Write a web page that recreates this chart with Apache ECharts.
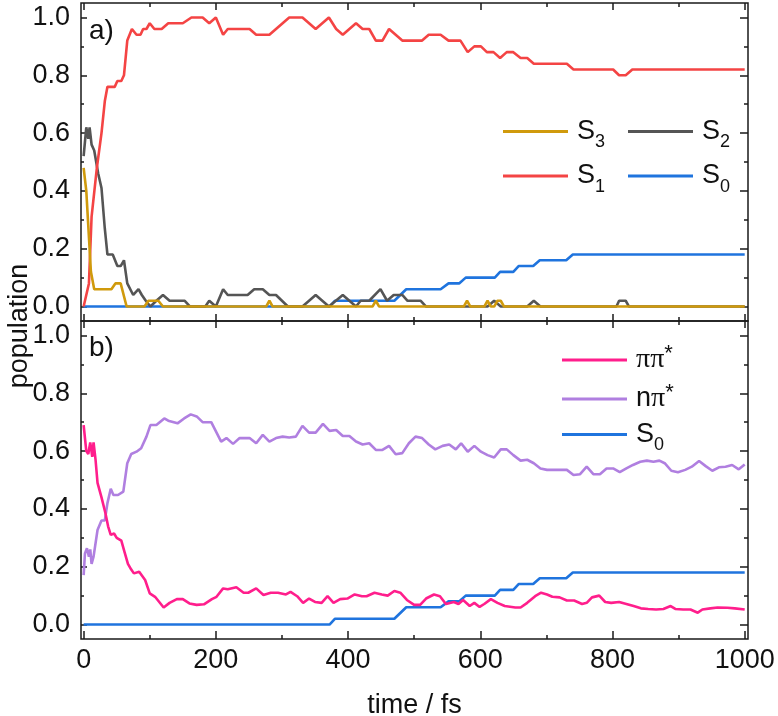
<!DOCTYPE html>
<html>
<head>
<meta charset="utf-8">
<script src="https://cdn.jsdelivr.net/npm/echarts@6.0.0/dist/echarts.min.js"></script>
<style>
  html, body { margin: 0; background: #fff; }
  #chart { width: 778px; height: 716px; }
</style>
</head>
<body>
<div id="chart"></div>
<script>
// populations, [time fs, population]
var s3Data = [[0,0.48],[4,0.4],[8,0.24],[11,0.12],[16,0.06],[42,0.06],[48,0.08],[56,0.08],[65,0],[92,0],[98,0.02],[113,0.02],[120,0],
  [276,0],[281,0.02],[286,0],[437,0],[442,0.02],[447,0],[575,0],[580,0.02],[585,0],[606,0],[611,0.02],[616,0],[621,0],[626,0.02],[631,0.02],[636,0],[1000,0]];
var s2Data = [[0,0.52],[4,0.62],[7,0.58],[9,0.62],[12,0.56],[16,0.54],[22,0.46],[27,0.41],[32,0.27],[36,0.18],[44,0.18],[51,0.14],[56,0.14],[61,0.16],
  [66,0.08],[75,0.04],[83,0.06],[88,0.04],[94,0.02],[101,0],[110,0.02],[120,0.04],[130,0.02],[153,0.02],[161,0],[184,0],[190,0.02],[200,0],
  [211,0.06],[218,0.04],[248,0.04],[258,0.06],[271,0.06],[281,0.04],[291,0.04],[309,0],[331,0],[351,0.04],[371,0],[392,0.04],[412,0],[419,0.02],
  [432,0.02],[449,0.06],[459,0.02],[469,0.04],[482,0.04],[490,0.02],[510,0.02],[518,0],[611,0],[621,0.02],[631,0],[671,0],[681,0.02],[691,0],
  [806,0],[810,0.02],[820,0.02],[825,0],[1000,0]];
var s1Data = [[0,0],[3,0],[8,0.08],[12,0.31],[20,0.48],[27,0.6],[32,0.71],[36,0.76],[47,0.76],[51,0.78],[57,0.78],[61,0.8],[66,0.92],[73,0.96],
  [80,0.94],[86,0.94],[90,0.96],[95,0.96],[100,0.98],[107,0.96],[118,0.96],[128,0.98],[150,0.98],[163,1],[180,1],[190,0.98],[200,1],[211,0.94],
  [218,0.96],[251,0.96],[261,0.94],[281,0.94],[311,1],[331,1],[351,0.96],[371,1],[382,0.96],[392,0.94],[412,0.98],[422,0.96],[432,0.96],
  [442,0.92],[452,0.92],[462,0.96],[482,0.92],[512,0.92],[522,0.94],[540,0.94],[552,0.92],[570,0.92],[581,0.88],[591,0.9],[601,0.9],[610,0.88],
  [620,0.88],[630,0.86],[640,0.88],[650,0.88],[661,0.86],[671,0.86],[681,0.84],[731,0.84],[741,0.82],[801,0.82],[810,0.8],[820,0.8],[830,0.82],[1000,0.82]];
var s0Data = [[0,0],[372,0],[380,0.02],[470,0.02],[488,0.06],[540,0.06],[552,0.08],[568,0.08],[578,0.1],[622,0.1],[630,0.12],[650,0.12],
  [658,0.14],[680,0.14],[690,0.16],[730,0.16],[740,0.18],[1000,0.18]];
var pipiData = [[0,0.69],[4,0.6],[7,0.59],[10,0.63],[13,0.58],[15,0.63],[18,0.57],[21,0.49],[27,0.44],[33,0.385],[37,0.34],[41,0.31],[46,0.315],
  [50,0.3],[57,0.29],[62,0.25],[67,0.21],[72,0.19],[76,0.177],[84,0.183],[93,0.154],[100,0.108],[108,0.096],[121,0.059],[130,0.075],[141,0.088],
  [150,0.088],[160,0.073],[171,0.068],[182,0.07],[194,0.088],[201,0.096],[211,0.125],[218,0.122],[231,0.129],[242,0.11],[249,0.11],[261,0.125],
  [272,0.102],[283,0.11],[294,0.11],[306,0.104],[313,0.113],[323,0.098],[332,0.075],[341,0.09],[350,0.078],[360,0.075],[369,0.098],[378,0.075],
  [388,0.088],[399,0.09],[410,0.104],[421,0.098],[428,0.098],[440,0.11],[451,0.104],[460,0.1],[470,0.116],[479,0.11],[489,0.085],[500,0.068],
  [509,0.068],[518,0.09],[530,0.104],[539,0.098],[548,0.071],[560,0.078],[567,0.071],[574,0.085],[584,0.064],[591,0.075],[599,0.061],[606,0.071],
  [616,0.088],[626,0.075],[637,0.064],[653,0.059],[661,0.059],[671,0.075],[683,0.098],[692,0.11],[701,0.104],[709,0.096],[720,0.094],[731,0.083],
  [742,0.083],[754,0.071],[761,0.075],[769,0.094],[780,0.1],[789,0.078],[798,0.075],[810,0.078],[821,0.071],[832,0.064],[843,0.056],[854,0.054],
  [866,0.052],[877,0.054],[888,0.064],[895,0.054],[907,0.052],[918,0.052],[929,0.041],[936,0.052],[948,0.056],[959,0.059],[974,0.058],[985,0.056],[1000,0.052]];
var npiData = [[0,0.171],[2,0.246],[5,0.264],[8,0.235],[10,0.26],[12,0.21],[15,0.235],[17,0.23],[21,0.327],[27,0.36],[32,0.36],[36,0.42],[41,0.47],
  [45,0.448],[52,0.448],[60,0.46],[66,0.558],[72,0.59],[80,0.598],[87,0.61],[95,0.65],[101,0.69],[110,0.69],[122,0.713],[128,0.705],[142,0.696],
  [152,0.713],[162,0.727],[171,0.72],[180,0.7],[193,0.7],[208,0.633],[216,0.645],[226,0.625],[236,0.645],[251,0.645],[261,0.627],[271,0.656],
  [281,0.633],[291,0.645],[301,0.65],[311,0.647],[321,0.65],[331,0.687],[341,0.664],[351,0.664],[362,0.694],[372,0.67],[382,0.673],[392,0.652],
  [402,0.652],[412,0.633],[422,0.623],[432,0.627],[442,0.604],[452,0.604],[462,0.618],[472,0.589],[482,0.593],[492,0.627],[502,0.65],[512,0.645],
  [522,0.623],[532,0.606],[543,0.618],[553,0.623],[563,0.606],[571,0.627],[581,0.598],[591,0.618],[601,0.598],[611,0.586],[621,0.578],[631,0.606],
  [640,0.606],[650,0.586],[661,0.567],[671,0.57],[681,0.558],[691,0.54],[701,0.535],[724,0.535],[731,0.535],[741,0.517],[751,0.52],[761,0.546],
  [771,0.52],[781,0.52],[791,0.54],[801,0.54],[811,0.527],[821,0.54],[831,0.552],[842,0.563],[852,0.567],[862,0.563],[871,0.567],[879,0.558],
  [889,0.532],[899,0.527],[910,0.535],[920,0.546],[931,0.566],[941,0.548],[951,0.532],[961,0.544],[971,0.546],[981,0.552],[991,0.537],[1000,0.554]];

var xMajor = [0, 200, 400, 600, 800, 1000];
var xMinor = [100, 300, 500, 700, 900];
var yMajor = [0, 0.2, 0.4, 0.6, 0.8, 1.0];
var yMinor = [0.1, 0.3, 0.5, 0.7, 0.9];

var FONT = '"Liberation Sans", Arial, sans-serif';
var INK = '#1a1a1a';

function xAx(grid, pos, ticks, len, label) {
    return {
        type: 'value', gridIndex: grid, position: pos, min: -4, max: 1005,
        axisLine: { show: false, onZero: false },
        splitLine: { show: false },
        axisTick: { inside: true, length: len, customValues: ticks, lineStyle: { color: INK, width: 1.5 } },
        axisLabel: label ? {
            customValues: xMajor, margin: 8, fontSize: 27, color: '#111', fontFamily: FONT,
            formatter: function (v) { return String(v); }
        } : { show: false }
    };
}

function yAx(grid, pos, ticks, len, label) {
    return {
        type: 'value', gridIndex: grid, position: pos, min: -0.05, max: 1.05,
        axisLine: { show: false, onZero: false },
        splitLine: { show: false },
        axisTick: { inside: true, length: len, customValues: ticks, lineStyle: { color: INK, width: 1.5 } },
        axisLabel: label ? {
            customValues: yMajor, margin: 11, fontSize: 27, color: '#111', fontFamily: FONT,
            formatter: function (v) { return v.toFixed(1); }
        } : { show: false }
    };
}

var xAxes = [
    xAx(0, 'bottom', xMajor, 7), xAx(0, 'bottom', xMinor, 4),
    xAx(0, 'top', xMajor, 7), xAx(0, 'top', xMinor, 4),
    xAx(1, 'bottom', xMajor, 8, true), xAx(1, 'bottom', xMinor, 4),
    xAx(1, 'top', xMajor, 7), xAx(1, 'top', xMinor, 4)
];
xAxes[4].name = 'time / fs';
xAxes[4].nameLocation = 'middle';
xAxes[4].nameGap = 53;
xAxes[4].nameTextStyle = { fontSize: 27, color: '#111', fontFamily: FONT };

var yAxes = [
    yAx(0, 'left', yMajor, 6, true), yAx(0, 'left', yMinor, 3),
    yAx(0, 'right', yMajor, 8), yAx(0, 'right', yMinor, 4),
    yAx(1, 'left', yMajor, 6, true), yAx(1, 'left', yMinor, 3),
    yAx(1, 'right', yMajor, 8), yAx(1, 'right', yMinor, 4)
];

function line(name, data, color, g) {
    return {
        name: name, type: 'line', data: data,
        xAxisIndex: g * 4, yAxisIndex: g * 4,
        symbol: 'none', silent: true,
        lineStyle: { color: color, width: 2.6 },
        itemStyle: { color: color }
    };
}

// legend labels with sub/superscripts
var legendNames = {
    'S3': '{m|S}{d|3}', 'S2': '{m|S}{d|2}', 'S1': '{m|S}{d|1}', 'S0': '{m|S}{d|0}',
    'ππ*': '{g|ππ}{u|*}', 'nπ*': '{m|n}{g|π}{u|*}'
};
var legendText = {
    color: '#111', fontFamily: FONT, fontSize: 27, padding: [0, 0, 0, 4],
    rich: {
        m: { fontSize: 27, fontFamily: FONT, color: '#111', lineHeight: 30 },
        g: { fontSize: 28, fontFamily: '"Liberation Serif", serif', color: '#111', lineHeight: 30 },
        d: { fontSize: 18, fontFamily: FONT, color: '#111', height: 8, lineHeight: 8, verticalAlign: 'bottom' },
        u: { fontSize: 22, fontFamily: FONT, color: '#111', height: 18, lineHeight: 18, verticalAlign: 'top' }
    }
};
function legendAt(names, left, top, gap) {
    return {
        data: names, left: left, top: top, orient: 'vertical', padding: 0,
        itemWidth: 65, itemHeight: 3, itemGap: gap, icon: 'rect', selectedMode: false,
        formatter: function (n) { return legendNames[n]; },
        textStyle: legendText
    };
}

var chart = echarts.init(document.getElementById('chart'), null, { renderer: 'canvas' });
chart.setOption({
    animation: false,
    backgroundColor: '#fff',
    grid: [
        { left: 81, right: 30, top: 3, height: 318, show: true, borderColor: INK, borderWidth: 1.5, outerBoundsMode: 'none' },
        { left: 81, right: 30, top: 321, height: 318, show: true, borderColor: INK, borderWidth: 1.5, outerBoundsMode: 'none' }
    ],
    xAxis: xAxes,
    yAxis: yAxes,
    legend: [
        legendAt(['S3', 'S1'], 503, 118, 11),
        legendAt(['S2', 'S0'], 628, 118, 11),
        legendAt(['ππ*', 'nπ*', 'S0'], 562, 343, 8)
    ],
    graphic: [
        { type: 'text', x: 89, y: 31, style: { text: 'a)', font: '28px "Liberation Sans"', fill: '#111', verticalAlign: 'middle' } },
        { type: 'text', x: 89, y: 348, style: { text: 'b)', font: '28px "Liberation Sans"', fill: '#111', verticalAlign: 'middle' } },
        { type: 'text', x: 20, y: 326, rotation: Math.PI / 2,
          style: { text: 'population', font: '27px "Liberation Sans"', fill: '#111', align: 'center', verticalAlign: 'middle' } }
    ],
    series: [
        line('S0', s0Data, '#1f74de', 0),
        line('S2', s2Data, '#555555', 0),
        line('S1', s1Data, '#f44444', 0),
        line('S3', s3Data, '#d09a0c', 0),
        line('S0', s0Data, '#1f74de', 1),
        line('nπ*', npiData, '#b07fe0', 1),
        line('ππ*', pipiData, '#ff1e8c', 1)
    ]
});
</script>
</body>
</html>
